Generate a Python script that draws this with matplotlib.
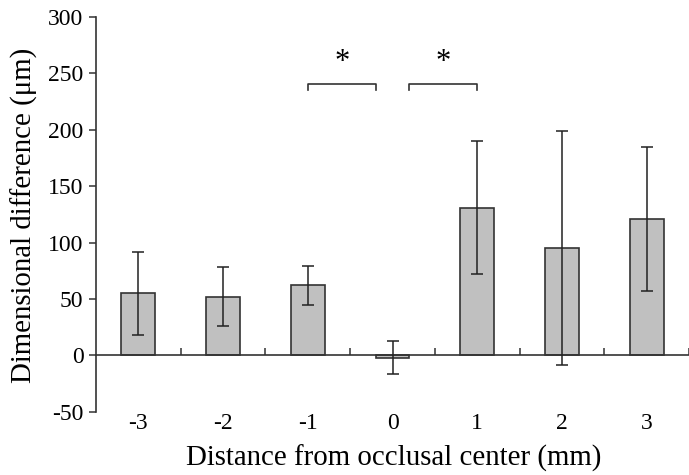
import matplotlib
matplotlib.use("Agg")
import matplotlib.pyplot as plt
import numpy as np

categories = ["-3", "-2", "-1", "0", "1", "2", "3"]
means = [55, 52, 62, -2, 131, 95, 121]
errors = [37, 26, 17, 15, 59, 104, 64]
yticks = [-50, 0, 50, 100, 150, 200, 250, 300]

plt.rcParams['font.family'] = ['Liberation Serif']
fig = plt.figure(figsize=(6.89, 4.75), dpi=100)
ax = fig.add_axes([96/689, 1-411.7/475, 1-96/689, (411.7-17)/475])

x = np.arange(len(categories))
ax.bar(x, means, width=0.40, color="#c0c0c0", edgecolor="#333333", linewidth=1.2, zorder=2)
ax.errorbar(x, means, yerr=errors, fmt='none', ecolor="#222222", elinewidth=1.1,
            capsize=4.5, capthick=1.1, zorder=3)

ax.set_xlim(-0.5, len(categories) - 0.5)
ax.set_ylim(-50, 300)
ax.set_yticks(yticks)
ax.set_yticklabels([str(v) for v in yticks], fontsize=17)
ax.tick_params(axis='y', direction='out', length=5, width=1.1, color="#333333", pad=4)

ax.spines['top'].set_visible(False)
ax.spines['right'].set_visible(False)
ax.spines['left'].set_color("#333333")
ax.spines['left'].set_linewidth(1.2)
ax.spines['bottom'].set_position(('data', 0))
ax.spines['bottom'].set_color("#333333")
ax.spines['bottom'].set_linewidth(1.2)

# major ticks at category boundaries (no labels), minor ticks at centers carry labels
ax.set_xticks(np.arange(len(categories)) + 0.5)
ax.set_xticklabels([])
ax.tick_params(axis='x', which='major', direction='in', length=5, width=1.1, color="#333333")
ax.set_xticks(x, minor=True)
ax.set_xticklabels(categories, minor=True, fontsize=17)
ax.tick_params(axis='x', which='minor', length=0, pad=70 * 72 / 100 - 9)

ax.set_xlabel("Distance from occlusal center (mm)", fontsize=20.8)
ax.xaxis.set_label_coords(0.502, -0.083)
ax.set_ylabel("Dimensional difference (μm)", fontsize=20.8)
ax.yaxis.set_label_coords(-0.098, 0.498)

# significance brackets
brackets = [(2.0, 2.8, 2.4), (3.2, 4.0, 3.6)]
for x0, x1, xs in brackets:
    ax.plot([x0, x0, x1, x1], [235, 241, 241, 235], color="#333333", lw=1.2, clip_on=False)
    ax.text(xs, 260, "*", ha='center', va='center', fontsize=22)

fig.savefig("out.png", dpi=100)
